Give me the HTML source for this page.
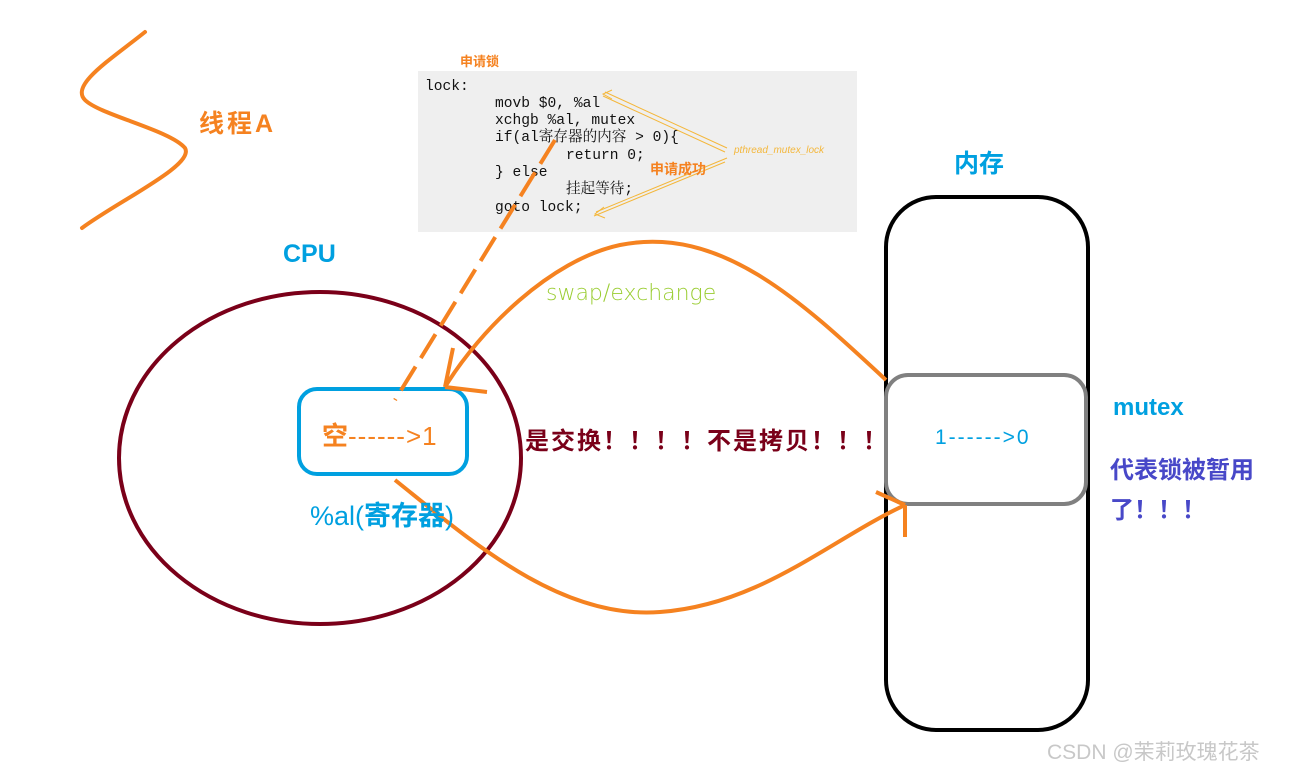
<!DOCTYPE html>
<html><head><meta charset="utf-8"><style>
body{margin:0;width:1300px;height:771px;background:#fff;overflow:hidden;position:relative;font-family:"Liberation Sans","Noto Sans CJK SC",sans-serif}
.t{position:absolute;white-space:nowrap}
.code{position:absolute;left:418px;top:71px;width:439px;height:161px;background:#efefef;font-family:"Liberation Mono","Noto Serif CJK SC",monospace;font-size:14.6px;line-height:17.3px;color:#111}
.code div{position:absolute;white-space:nowrap}
</style></head><body>
<div class="code">
<div style="left:7px;top:8px">lock:</div>
<div style="left:77px;top:25px">movb $0, %al</div>
<div style="left:77px;top:42px">xchgb %al, mutex</div>
<div style="left:77px;top:59px">if(al寄存器的内容 &gt; 0){</div>
<div style="left:148px;top:77px">return 0;</div>
<div style="left:77px;top:94px">} else</div>
<div style="left:148px;top:111px">挂起等待;</div>
<div style="left:77px;top:129px">goto lock;</div>
</div>
<svg width="1300" height="771" style="position:absolute;left:0;top:0">
<path d="M145,32 C110,60 70,85 85,100 C100,115 170,130 185,148 C195,165 120,200 82,228" fill="none" stroke="#f58220" stroke-width="4" stroke-linecap="round"/>
<g stroke="#f4b73b" stroke-width="1" fill="none">
<path d="M605,92 L727,148 M603,96 L725,152"/><path d="M612,90 L603,94 L612,99"/>
<path d="M596,212 L727,158 M594,216 L725,162"/><path d="M604,207 L595,214 L605,218"/>
</g>
<ellipse cx="320" cy="458" rx="201" ry="166" fill="none" stroke="#7a0019" stroke-width="4"/>
<rect x="299" y="389" width="168" height="85" rx="18" fill="none" stroke="#00a0e0" stroke-width="4"/>
<rect x="886" y="197" width="202" height="533" rx="50" fill="none" stroke="#000" stroke-width="4"/>
<rect x="886" y="375" width="200" height="129" rx="22" fill="#fff" stroke="#808080" stroke-width="4"/>
<path d="M555,140 L395,400" fill="none" stroke="#f58220" stroke-width="4" stroke-dasharray="28,10"/>
<path d="M886,380 C800,300 720,225 620,245 C550,260 480,330 445,387" fill="none" stroke="#f58220" stroke-width="4"/>
<path d="M445,387 L487,392 M445,387 L453,348" fill="none" stroke="#f58220" stroke-width="4"/>
<path d="M395,480 C470,540 560,620 660,612 C760,605 830,540 905,505" fill="none" stroke="#f58220" stroke-width="4"/>
<path d="M905,505 L876,492 M905,505 L905,537" fill="none" stroke="#f58220" stroke-width="4"/>
</svg>
<div class="t" style="left:460px;top:51px;font-size:13px;font-weight:bold;color:#f58220">申请锁</div>
<div class="t" style="left:650px;top:159px;font-size:14px;font-weight:bold;color:#f58220">申请成功</div>
<div class="t" style="left:734px;top:145px;font-size:10px;font-style:italic;color:#f4b73b">pthread_mutex_lock</div>
<div class="t" style="left:199px;top:104px;font-size:25px;font-weight:bold;color:#f58220;letter-spacing:3px">线程A</div>
<div class="t" style="left:283px;top:240px;font-size:25px;font-weight:bold;color:#00a0e0">CPU</div>
<div class="t" style="left:954px;top:144px;font-size:25px;font-weight:bold;color:#00a0e0">内存</div>
<div class="t" style="left:546px;top:281px;font-size:22px;color:#9acd32;font-family:'DejaVu Sans',sans-serif;font-weight:300">swap/exchange</div>
<div class="t" style="left:322px;top:416px;font-size:26px;color:#f58220"><b>空</b><span style="letter-spacing:1px">------&gt;1</span></div>
<div class="t" style="left:310px;top:494px;font-size:27px;color:#00a0e0">%al(<b>寄存器</b>)</div>
<div class="t" style="left:525px;top:421px;font-size:24px;font-weight:bold;color:#7a0019;letter-spacing:2px">是交换！！！！不是拷贝！！！</div>
<div class="t" style="left:935px;top:426px;font-size:21px;color:#00a0e0;letter-spacing:2px">1------&gt;0</div>
<div class="t" style="left:1113px;top:394px;font-size:24px;font-weight:bold;color:#00a0e0">mutex</div>
<div class="t" style="left:1110px;top:451px;font-size:24px;font-weight:bold;color:#4848c8;line-height:40px">代表锁被暂用<br>了！！！</div>
<div class="t" style="left:1047px;top:736px;font-size:21px;color:#c8c8c8">CSDN @茉莉玫瑰花茶</div>
</body></html>
